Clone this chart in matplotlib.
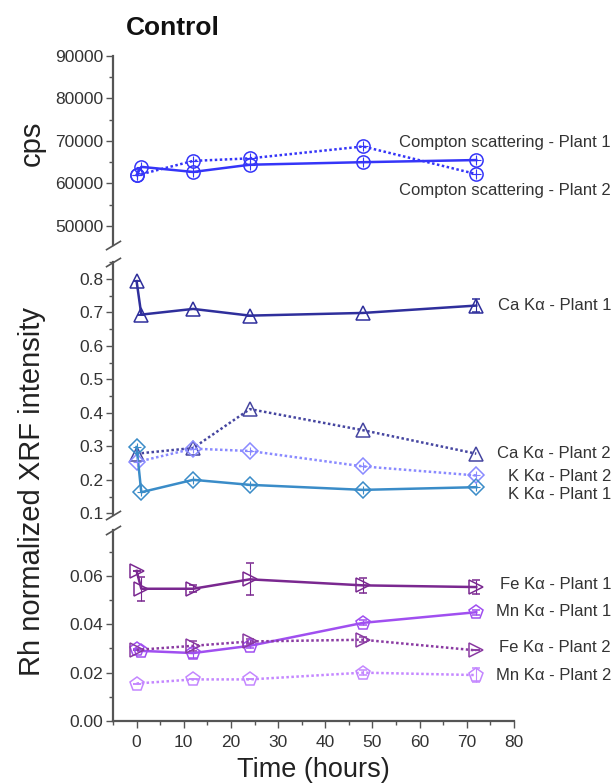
import matplotlib
matplotlib.use("Agg")
import matplotlib.pyplot as plt
import matplotlib.transforms as mtransforms
from matplotlib.ticker import MultipleLocator

plt.rcParams['font.family'] = ['Liberation Sans', 'DejaVu Sans']

# time points (hours); plant 1 has an extra early point
t_p1 = [0, 1, 12, 24, 48, 72]
t_p2 = [0, 12, 24, 48, 72]

# Compton scattering (cps)
compton_p1 = [62000, 63900, 62700, 64400, 65000, 65500]
compton_p2 = [61900, 65300, 65900, 68700, 62200]

# Ca / K (Rh normalized)
ca_p1 = [0.793, 0.693, 0.710, 0.690, 0.698, 0.720]
ca_p1_err = [0, 0, 0, 0, 0, 0.02]
ca_p2 = [0.278, 0.295, 0.411, 0.348, 0.278]
k_p2 = [0.253, 0.293, 0.286, 0.240, 0.213]
k_p1 = [0.298, 0.163, 0.200, 0.185, 0.170, 0.178]

# Fe / Mn (Rh normalized)
fe_p1 = [0.0621, 0.0547, 0.0547, 0.0586, 0.0561, 0.0554]
fe_p1_err = [0, 0.005, 0.0015, 0.0066, 0.003, 0.003]
mn_p1 = [0.0297, 0.0290, 0.0281, 0.0311, 0.0406, 0.0450]
mn_p1_err = [0, 0, 0.002, 0.001, 0.001, 0.001]
fe_p2 = [0.0294, 0.0311, 0.0329, 0.0336, 0.0292]
fe_p2_err = [0, 0.002, 0.001, 0.001, 0]
mn_p2 = [0.0155, 0.0172, 0.0172, 0.0200, 0.0190]
mn_p2_err = [0, 0, 0, 0.001, 0.003]

labels = [
    ("Compton scattering - Plant 1", 0, 69700),
    ("Compton scattering - Plant 2", 0, 58230),
    ("Ca K\u03b1 - Plant 1", 1, 0.720),
    ("Ca K\u03b1 - Plant 2", 1, 0.279),
    ("K K\u03b1 - Plant 2", 1, 0.211),
    ("K K\u03b1 - Plant 1", 1, 0.157),
    ("Fe K\u03b1 - Plant 1", 2, 0.0565),
    ("Mn K\u03b1 - Plant 1", 2, 0.0453),
    ("Fe K\u03b1 - Plant 2", 2, 0.0304),
    ("Mn K\u03b1 - Plant 2", 2, 0.0188),
]

W, H = 616, 783
fig = plt.figure(figsize=(W / 100, H / 100), dpi=100)

left, width = 113 / W, 401 / W
def box(top_px, bot_px):
    return [left, 1 - bot_px / H, width, (bot_px - top_px) / H]

ax_top = fig.add_axes(box(56, 245))
ax_mid = fig.add_axes(box(262, 515))
ax_bot = fig.add_axes(box(530, 721))
axes = [ax_top, ax_mid, ax_bot]

solid = '-'
dotted = (0, (1, 1))

def series(ax, t, y, color, ls, marker, ms, err=None, cross=False):
    ax.errorbar(t, y, yerr=err, color=color, ls=ls, lw=1.8, marker=marker,
                ms=ms, mfc='none', mec=color, mew=1.1, capsize=3,
                elinewidth=0.8, ecolor=color, clip_on=False, zorder=3)
    if cross:
        ax.plot(t, y, ls='none', marker='+', ms=ms * 0.7, mec=color,
                mew=0.8, clip_on=False, zorder=4)

blue = '#3535f8'
series(ax_top, t_p1, compton_p1, blue, solid, 'o', 9.5, cross=True)
series(ax_top, t_p2, compton_p2, blue, dotted, 'o', 9.5, cross=True)

series(ax_mid, t_p1, ca_p1, '#2f2f9c', solid, '^', 10.5, err=ca_p1_err)
series(ax_mid, t_p2, ca_p2, '#4545a0', dotted, '^', 10.5)
series(ax_mid, t_p2, k_p2, '#8a8aff', dotted, 'D', 8, cross=True)
series(ax_mid, t_p1, k_p1, '#3a8cc8', solid, 'D', 8, cross=True)

series(ax_bot, t_p1, fe_p1, '#7a2890', solid, '>', 10.5, err=fe_p1_err)
series(ax_bot, t_p1, mn_p1, '#a04ff0', solid, 'p', 10.5, err=mn_p1_err)
series(ax_bot, t_p2, fe_p2, '#8a3aa2', dotted, '>', 10.5, err=fe_p2_err)
series(ax_bot, t_p2, mn_p2, '#c487ff', dotted, 'p', 10.5, err=mn_p2_err)

ax_top.set_ylim(45500, 90000)
ax_top.yaxis.set_major_locator(MultipleLocator(10000))
ax_top.yaxis.set_minor_locator(MultipleLocator(5000))
ax_mid.set_ylim(0.095, 0.85)
ax_mid.yaxis.set_major_locator(MultipleLocator(0.1))
ax_mid.yaxis.set_minor_locator(MultipleLocator(0.05))
ax_mid.yaxis.set_major_formatter(plt.FormatStrFormatter('%.1f'))
ax_bot.set_ylim(0, 0.079)
ax_bot.yaxis.set_major_locator(MultipleLocator(0.02))
ax_bot.yaxis.set_minor_locator(MultipleLocator(0.01))
ax_bot.yaxis.set_major_formatter(plt.FormatStrFormatter('%.2f'))

spine_c = '#555555'
for ax in axes:
    ax.set_xlim(-5, 80)
    for s in ['top', 'right']:
        ax.spines[s].set_visible(False)
    ax.spines['left'].set_color(spine_c)
    ax.spines['left'].set_linewidth(1.6)
    ax.tick_params(axis='y', which='major', length=5, width=1, color=spine_c,
                   labelsize=12.5, labelcolor='#333333', pad=2)
    ax.tick_params(axis='y', which='minor', length=3, width=1, color=spine_c)
    ax.patch.set_visible(False)

for ax in [ax_top, ax_mid]:
    ax.spines['bottom'].set_visible(False)
    ax.tick_params(axis='x', which='both', bottom=False, labelbottom=False)

ax_bot.spines['bottom'].set_color(spine_c)
ax_bot.spines['bottom'].set_linewidth(1.6)
ax_bot.xaxis.set_major_locator(MultipleLocator(10))
ax_bot.xaxis.set_minor_locator(MultipleLocator(5))
ax_bot.tick_params(axis='x', which='major', length=5, width=1, color=spine_c,
                   labelsize=12.5, labelcolor='#333333', pad=5)
ax_bot.tick_params(axis='x', which='minor', length=3, width=1, color=spine_c)
ax_bot.set_xlabel("Time (hours)", fontsize=19.5, color='#222222', labelpad=5)

# axis break marks
brk = dict(marker=[(-1, -0.6), (1, 0.6)], markersize=11, ls='none',
           mec=spine_c, mew=1.2, clip_on=False, color=spine_c)
ax_top.plot([0], [0], transform=ax_top.transAxes, **brk)
ax_mid.plot([0, 0], [0, 1], transform=ax_mid.transAxes, **brk)
ax_bot.plot([0], [1], transform=ax_bot.transAxes, **brk)

for text, i, yv in labels:
    tr = mtransforms.blended_transform_factory(fig.transFigure, axes[i].transData)
    fig.text(611 / W, yv, text, transform=tr, ha='right', va='center',
             fontsize=12, color='#333333')

fig.text(126 / W, 1 - 28 / H, "Control", fontsize=19, fontweight='bold',
         ha='left', va='center', color='#111111')
fig.text(32 / W, 1 - 143 / H, "cps", rotation=90, fontsize=21,
         ha='center', va='center', color='#222222')
fig.text(32 / W, 1 - 491 / H, "Rh normalized XRF intensity", rotation=90,
         fontsize=21, ha='center', va='center', color='#222222')

fig.savefig("out.png", dpi=100)
